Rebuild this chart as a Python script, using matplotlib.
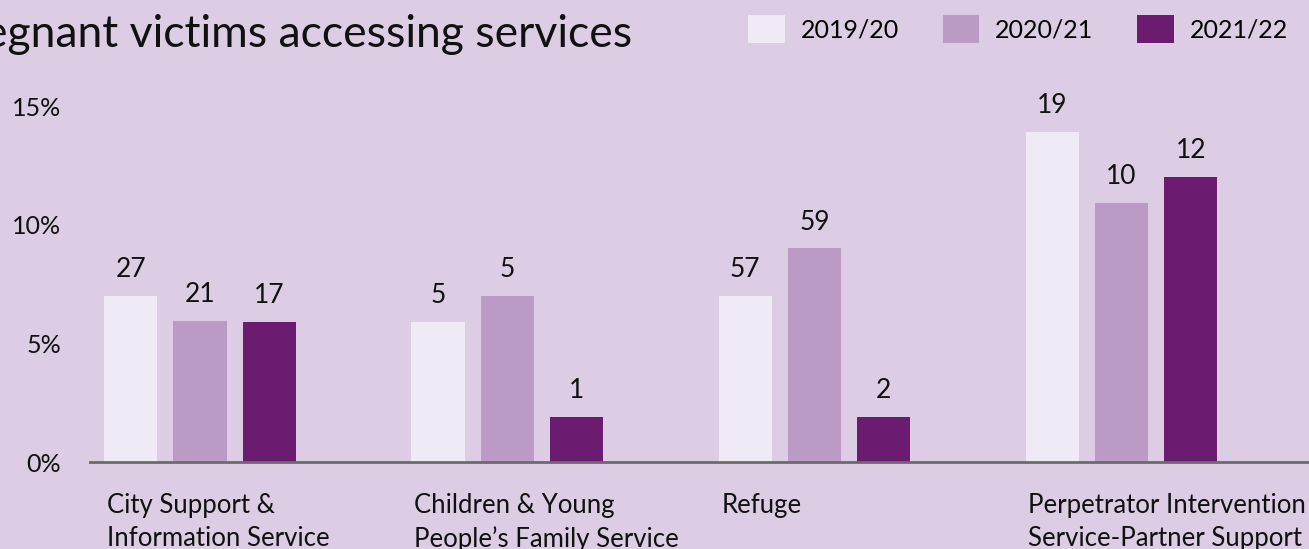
import numpy as np
import matplotlib
matplotlib.use("Agg")
import matplotlib.pyplot as plt
import matplotlib.transforms as mtransforms
from matplotlib.patches import Patch

plt.rcParams['font.family'] = ['Lato', 'DejaVu Sans']

# data
categories = ["City Support &\nInformation Service",
              "Children & Young\nPeople\u2019s Family Service",
              "Refuge",
              "Perpetrator Intervention\nService-Partner Support"]
years = ["2019/20", "2020/21", "2021/22"]
pct_1920 = [7.0, 5.9, 7.0, 13.9]
pct_2021 = [5.95, 7.0, 9.0, 10.9]
pct_2122 = [5.9, 1.9, 1.9, 12.0]
cnt_1920 = [27, 5, 57, 19]
cnt_2021 = [21, 5, 59, 10]
cnt_2122 = [17, 1, 2, 12]
yticks = [0, 5, 10, 15]

bg = "#DCCDE5"
colors = ["#F0EAF6", "#BB9BC6", "#6B1C71"]

fig = plt.figure(figsize=(13.09, 5.49), dpi=100, facecolor=bg)
ax = fig.add_axes([90/1309, 87/549, 1 - 90/1309, 16*23.73/549])
ax.set_facecolor(bg)

x = np.arange(len(categories))
w = 0.173
off = 0.225
series = [pct_1920, pct_2021, pct_2122]
counts = [cnt_1920, cnt_2021, cnt_2122]
for i in range(3):
    bars = ax.bar(x + (i - 1) * off, series[i], width=w, color=colors[i], zorder=2)
    ax.bar_label(bars, labels=[str(c) for c in counts[i]], padding=10,
                 fontsize=19, color="#111111")

ax.set_xlim(-0.358, 3.61)
ax.set_ylim(0, 16)
ax.set_yticks(yticks)
ax.set_yticklabels([f"{t}%" for t in yticks], fontsize=18, color="#111111")
ax.tick_params(axis='y', length=0, pad=21)
ax.tick_params(axis='x', length=0, labelbottom=False)
for s in ["top", "right", "left"]:
    ax.spines[s].set_visible(False)
ax.spines["bottom"].set_color("#6b6b6b")
ax.spines["bottom"].set_linewidth(2)

# category labels, left aligned under first bar of each group
trans = mtransforms.blended_transform_factory(ax.transData, fig.transFigure)
for xi, lab in zip(x, categories):
    ax.text(xi - off - w / 2 + 0.008, 1 - 493/549, lab, transform=trans, ha='left', va='top',
            fontsize=18.5, color="#111111", linespacing=1.38)

# title (cut off at left in the original)
fig.text(632/1309, 1 - 47/549, "Pregnant victims accessing services", ha='right',
         va='baseline', fontsize=32, color="#111111")

handles = [Patch(facecolor=c, edgecolor='none') for c in colors]
fig.legend(handles, years, loc='upper right', bbox_to_anchor=(1288/1309, 1 - 15/549),
           ncol=3, frameon=False, fontsize=18, handlelength=1.45, handleheight=1.35,
           handletextpad=0.65, columnspacing=1.75, borderpad=0, borderaxespad=0)

fig.savefig("out.png", dpi=100, facecolor=bg)
